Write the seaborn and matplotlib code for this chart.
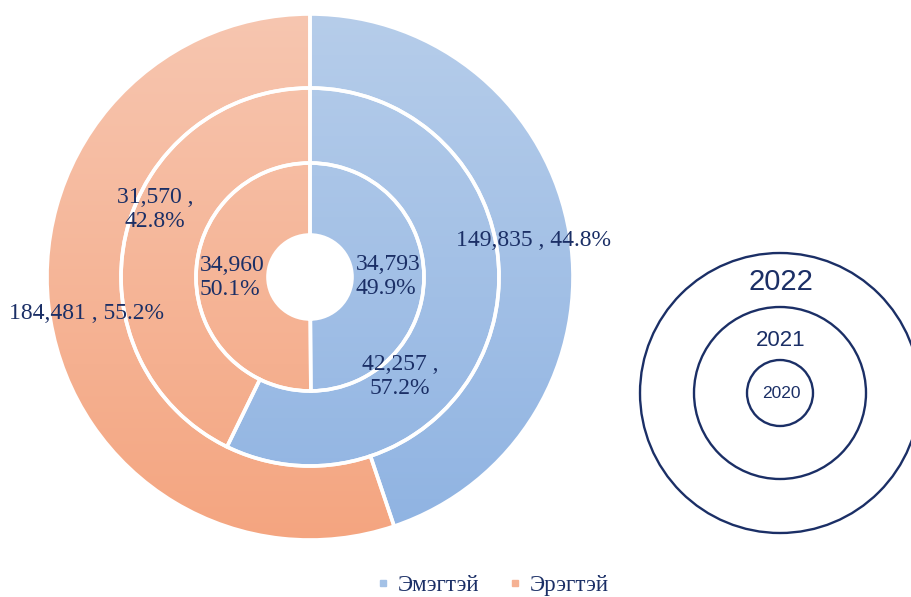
import numpy as np
import matplotlib.pyplot as plt
from matplotlib.colors import LinearSegmentedColormap
from matplotlib.patches import Circle
from matplotlib.lines import Line2D
import seaborn as sns

# data (inner ring = 2020, outer ring = 2022)
years = ["2020", "2021", "2022"]
genders = ["Эмэгтэй", "Эрэгтэй"]
female = [34793, 42257, 149835]
male = [34960, 31570, 184481]

sns.set_style("white")

navy = "#1b2f66"
blue_top, blue_bot = "#b6cdea", "#8fb3e2"
orng_top, orng_bot = "#f7c6b0", "#f4a580"

fig = plt.figure(figsize=(9.12, 5.97), dpi=100)
ax = fig.add_axes([0, 0, 1, 1])
ax.set_xlim(0, 912)
ax.set_ylim(0, 597)
ax.axis("off")

cx, cy = 310, 320
radii = [114, 189, 263]
hole = 42

cmaps = [LinearSegmentedColormap.from_list("b", [blue_bot, blue_top]),
         LinearSegmentedColormap.from_list("o", [orng_bot, orng_top])]
grad = np.linspace(0, 1, 256).reshape(-1, 1)
R = radii[-1]

# manual label spots for the 2021 ring (angle deg, radius)
label_override = {(1, 0): (-47.7, 134), (1, 1): (156.6, 169)}

prev = hole
for i, yr in enumerate(years):
    vals = [female[i], male[i]]
    r = radii[i]
    wedges, _ = ax.pie(vals, radius=r, center=(cx, cy), startangle=90,
                       counterclock=False, colors=["none", "none"],
                       wedgeprops=dict(width=r - prev, edgecolor="white",
                                       linewidth=2.6), frame=True)
    total = sum(vals)
    for j, w in enumerate(wedges):
        w.set_zorder(3)
        im = ax.imshow(grad, extent=(cx - R, cx + R, cy - R, cy + R),
                       origin="lower", cmap=cmaps[j], aspect="auto", zorder=2)
        im.set_clip_path(w)

        pct = vals[j] / total * 100
        if i == 0:
            s = f"{vals[j]:,}\n{pct:.1f}%"
        elif i == 1:
            s = f"{vals[j]:,} ,\n{pct:.1f}%"
        else:
            s = f"{vals[j]:,} , {pct:.1f}%"
        if (i, j) in label_override:
            ang, rr = label_override[(i, j)]
        else:
            ang = (w.theta1 + w.theta2) / 2
            rr = r - (r - prev) / 2
        tx = cx + rr * np.cos(np.radians(ang))
        ty = cy + rr * np.sin(np.radians(ang))
        ax.text(tx, ty, s, ha="center", va="center", fontsize=17,
                family="Liberation Serif", color=navy, zorder=5,
                linespacing=1.2, multialignment="left" if i == 0 else "center")
    prev = r

ax.set_xlim(0, 912)
ax.set_ylim(0, 597)
ax.set_aspect("auto")

# year key on the right
kx, ky = 780, 204
for rad, yr, fs, ty in [(140, years[2], 21, 315), (86, years[1], 16, 256),
                        (33, years[0], 12.5, 204)]:
    ax.add_patch(Circle((kx, ky), rad, fill=False, edgecolor=navy, lw=1.7,
                        zorder=4))
    ax.text(kx + 1, ty, yr, ha="center", va="center", fontsize=fs,
            family="Liberation Sans", color=navy, zorder=5)

handles = [Line2D([], [], marker="s", ls="", markersize=5, color=c)
           for c in ["#a3c1e6", "#f5b193"]]
fig.legend(handles, genders, loc="center", bbox_to_anchor=(492 / 912, 12 / 597),
           ncol=2, frameon=False, handletextpad=0.3, columnspacing=1.2,
           prop={"family": "Liberation Serif", "size": 16.5},
           labelcolor=navy, handlelength=0.7)

fig.savefig("out.png", dpi=100)
